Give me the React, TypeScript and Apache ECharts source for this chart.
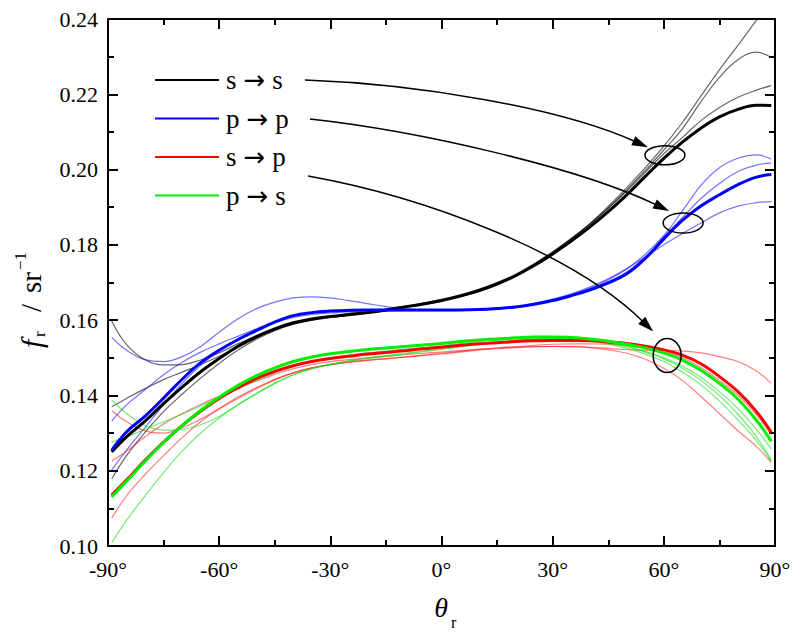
import React, { useEffect, useRef } from 'react';
import * as echarts from 'echarts';

// Reflection angle θr (degrees)
const angles = [-89, -85, -80, -75, -70, -65, -60, -55, -50, -45, -40, -35, -30, -25, -20, -15, -10, -5, 0, 5, 10, 15, 20, 25, 30, 35, 40, 45, 50, 55, 60, 65, 70, 75, 80, 85, 89];

// Thick (mean) curves
const ssThick = [0.1250, 0.1290, 0.1332, 0.1378, 0.1422, 0.1463, 0.1498, 0.1530, 0.1556, 0.1577, 0.1593, 0.1603, 0.1610, 0.1615, 0.1620, 0.1627, 0.1635, 0.1643, 0.1652, 0.1664, 0.1678, 0.1696, 0.1718, 0.1745, 0.1776, 0.1810, 0.1847, 0.1888, 0.1933, 0.1982, 0.2030, 0.2073, 0.2110, 0.2140, 0.2160, 0.2171, 0.2170];
const ppThick = [0.1255, 0.1303, 0.1345, 0.1393, 0.1443, 0.1487, 0.1520, 0.1548, 0.1572, 0.1595, 0.1612, 0.1620, 0.1624, 0.1626, 0.1627, 0.1627, 0.1627, 0.1627, 0.1627, 0.1627, 0.1628, 0.1631, 0.1635, 0.1642, 0.1652, 0.1665, 0.1680, 0.1699, 0.1723, 0.1764, 0.1816, 0.1865, 0.1903, 0.1933, 0.1960, 0.1980, 0.1987];
const spThick = [0.1135, 0.1175, 0.1228, 0.1276, 0.1320, 0.1358, 0.1392, 0.1420, 0.1445, 0.1464, 0.1479, 0.1490, 0.1498, 0.1504, 0.1510, 0.1514, 0.1519, 0.1524, 0.1528, 0.1533, 0.1537, 0.1540, 0.1543, 0.1545, 0.1546, 0.1546, 0.1545, 0.1542, 0.1538, 0.1531, 0.1521, 0.1507, 0.1484, 0.1450, 0.1410, 0.1357, 0.1302];
const psThick = [0.1130, 0.1172, 0.1225, 0.1275, 0.1320, 0.1360, 0.1395, 0.1426, 0.1452, 0.1473, 0.1490, 0.1502, 0.1511, 0.1517, 0.1522, 0.1526, 0.1530, 0.1534, 0.1538, 0.1543, 0.1547, 0.1550, 0.1553, 0.1555, 0.1555, 0.1554, 0.1550, 0.1544, 0.1536, 0.1526, 0.1513, 0.1494, 0.1467, 0.1432, 0.1390, 0.1334, 0.1278];

// Thin (individual) curves
const ssThinA = [0.1598, 0.1535, 0.1495, 0.1481, 0.1482, 0.1494, 0.1513, 0.1537, 0.1558, 0.1576, 0.1591, 0.1601, 0.1608, 0.1614, 0.1620, 0.1627, 0.1636, 0.1645, 0.1655, 0.1667, 0.1682, 0.1700, 0.1722, 0.1750, 0.1782, 0.1817, 0.1855, 0.1897, 0.1943, 0.1993, 0.2042, 0.2085, 0.2130, 0.2165, 0.2192, 0.2211, 0.2223];
const ssThinB = [0.1370, 0.1392, 0.1418, 0.1442, 0.1462, 0.1482, 0.1504, 0.1528, 0.1552, 0.1573, 0.1589, 0.1600, 0.1607, 0.1613, 0.1619, 0.1626, 0.1634, 0.1643, 0.1653, 0.1665, 0.1680, 0.1698, 0.1720, 0.1748, 0.1780, 0.1815, 0.1854, 0.1898, 0.1946, 0.1998, 0.2052, 0.2108, 0.2180, 0.2245, 0.2292, 0.2312, 0.2298];
const ssThinC = [0.1178, 0.1240, 0.1302, 0.1357, 0.1403, 0.1446, 0.1485, 0.1520, 0.1549, 0.1572, 0.1589, 0.1600, 0.1607, 0.1612, 0.1618, 0.1625, 0.1633, 0.1641, 0.1650, 0.1662, 0.1677, 0.1696, 0.1719, 0.1747, 0.1780, 0.1816, 0.1856, 0.1902, 0.1952, 0.2005, 0.2062, 0.2125, 0.2195, 0.2265, 0.2330, 0.2397, 0.2450];
const ppThinA = [0.1555, 0.1520, 0.1495, 0.1490, 0.1503, 0.1530, 0.1568, 0.1603, 0.1630, 0.1648, 0.1659, 0.1662, 0.1659, 0.1652, 0.1644, 0.1636, 0.1630, 0.1627, 0.1626, 0.1626, 0.1627, 0.1630, 0.1635, 0.1643, 0.1653, 0.1667, 0.1685, 0.1707, 0.1736, 0.1775, 0.1825, 0.1890, 0.1958, 0.2005, 0.2030, 0.2039, 0.2028];
const ppThinB = [0.1332, 0.1375, 0.1415, 0.1455, 0.1488, 0.1515, 0.1537, 0.1557, 0.1577, 0.1597, 0.1612, 0.1619, 0.1623, 0.1625, 0.1626, 0.1626, 0.1626, 0.1626, 0.1626, 0.1626, 0.1627, 0.1630, 0.1634, 0.1642, 0.1652, 0.1665, 0.1681, 0.1702, 0.1728, 0.1768, 0.1822, 0.1872, 0.1923, 0.1963, 0.1995, 0.2012, 0.2017];
const ppThinC = [0.1202, 0.1255, 0.1315, 0.1375, 0.1432, 0.1480, 0.1518, 0.1549, 0.1573, 0.1593, 0.1607, 0.1615, 0.1619, 0.1622, 0.1623, 0.1624, 0.1625, 0.1625, 0.1625, 0.1626, 0.1627, 0.1631, 0.1636, 0.1645, 0.1656, 0.1670, 0.1688, 0.1710, 0.1737, 0.1768, 0.1800, 0.1830, 0.1858, 0.1885, 0.1903, 0.1912, 0.1915];
const spThinA = [0.1360, 0.1330, 0.1306, 0.1300, 0.1314, 0.1337, 0.1364, 0.1392, 0.1418, 0.1442, 0.1460, 0.1473, 0.1482, 0.1489, 0.1494, 0.1498, 0.1502, 0.1506, 0.1510, 0.1515, 0.1520, 0.1524, 0.1527, 0.1529, 0.1530, 0.1530, 0.1528, 0.1525, 0.1522, 0.1520, 0.1520, 0.1518, 0.1513, 0.1503, 0.1490, 0.1465, 0.1432];
const spThinB = [0.1226, 0.1252, 0.1290, 0.1324, 0.1352, 0.1376, 0.1398, 0.1419, 0.1438, 0.1456, 0.1471, 0.1482, 0.1490, 0.1495, 0.1500, 0.1504, 0.1508, 0.1512, 0.1515, 0.1519, 0.1523, 0.1526, 0.1528, 0.1530, 0.1530, 0.1529, 0.1527, 0.1521, 0.1512, 0.1496, 0.1472, 0.1440, 0.1397, 0.1352, 0.1306, 0.1264, 0.1222];
const spThinC = [0.1074, 0.1133, 0.1190, 0.1240, 0.1288, 0.1330, 0.1365, 0.1395, 0.1420, 0.1442, 0.1460, 0.1473, 0.1482, 0.1488, 0.1493, 0.1497, 0.1502, 0.1507, 0.1512, 0.1517, 0.1522, 0.1526, 0.1530, 0.1533, 0.1536, 0.1537, 0.1537, 0.1536, 0.1533, 0.1526, 0.1516, 0.1500, 0.1474, 0.1440, 0.1400, 0.1348, 0.1295];
const psThinA = [0.1388, 0.1352, 0.1320, 0.1308, 0.1310, 0.1322, 0.1344, 0.1374, 0.1404, 0.1432, 0.1455, 0.1471, 0.1482, 0.1491, 0.1498, 0.1504, 0.1510, 0.1516, 0.1522, 0.1529, 0.1535, 0.1541, 0.1545, 0.1548, 0.1550, 0.1549, 0.1545, 0.1539, 0.1530, 0.1517, 0.1500, 0.1478, 0.1448, 0.1410, 0.1365, 0.1310, 0.1258];
const psThinB = [0.1276, 0.1290, 0.1310, 0.1330, 0.1350, 0.1372, 0.1395, 0.1418, 0.1440, 0.1460, 0.1478, 0.1491, 0.1500, 0.1507, 0.1513, 0.1518, 0.1523, 0.1527, 0.1532, 0.1538, 0.1543, 0.1547, 0.1550, 0.1552, 0.1553, 0.1551, 0.1548, 0.1540, 0.1530, 0.1515, 0.1497, 0.1472, 0.1440, 0.1400, 0.1350, 0.1290, 0.1228];
const psThinC = [0.1008, 0.1068, 0.1133, 0.1195, 0.1252, 0.1300, 0.1340, 0.1375, 0.1405, 0.1432, 0.1455, 0.1471, 0.1483, 0.1492, 0.1500, 0.1506, 0.1512, 0.1518, 0.1525, 0.1532, 0.1538, 0.1543, 0.1547, 0.1550, 0.1552, 0.1550, 0.1545, 0.1536, 0.1525, 0.1510, 0.1490, 0.1462, 0.1428, 0.1385, 0.1335, 0.1280, 0.1225];

const legendNames = ['s → s', 'p → p', 's → p', 'p → s'];
const xTicks = { min: -90, max: 90, interval: 30 };
const yTicks = { min: 0.1, max: 0.24, interval: 0.02 };

// Ellipse marks (data coords: centre angle, centre value)
const ellipses = [
  { at: [60.3, 0.2038], rx: 20, ry: 9.5 },
  { at: [65.2, 0.1858], rx: 20, ry: 10 },
  { at: [60.9, 0.1506], rx: 14, ry: 17 },
];

const FONT = 'Liberation Serif';
const colors = { ss: '#000000', pp: '#0000ff', sp: '#ff0000', ps: '#00ee00' };
const thinColors = { ss: 'rgba(0,0,0,0.6)', pp: 'rgba(0,0,255,0.55)', sp: 'rgba(255,0,0,0.5)', ps: 'rgba(0,220,0,0.55)' };

function zip(ys: number[]) {
  return angles.map((a, i) => [a, ys[i]]);
}

function line(name: string, ys: number[], color: string, width: number, z: number) {
  return {
    type: 'line',
    name,
    data: zip(ys),
    smooth: 0.4,
    symbol: 'none',
    showSymbol: false,
    clip: true,
    z,
    lineStyle: { color, width },
    itemStyle: { color },
    emphasis: { disabled: true },
  };
}

function axisCommon(showLabel: boolean, isX: boolean) {
  return {
    axisLine: { onZero: false, lineStyle: { color: '#000', width: 2 } },
    axisTick: { inside: true, length: 10, lineStyle: { color: '#000', width: 2 } },
    minorTick: { show: true, splitNumber: 2, length: 6, lineStyle: { color: '#000', width: 2 } },
    splitLine: { show: false },
    axisLabel: {
      show: showLabel,
      color: '#000',
      fontSize: 22,
      fontFamily: FONT,
      margin: isX ? 12 : 10,
      formatter: isX ? (v: number) => `${v}°` : (v: number) => v.toFixed(2),
    },
  };
}

export default function App() {
  const ref = useRef<HTMLDivElement>(null);
  useEffect(() => {
    const chart = echarts.init(ref.current!, null, { renderer: 'svg', width: 800, height: 636 });
    const series = [
      line('ss-1', ssThinA, thinColors.ss, 1.2, 2),
      line('ss-2', ssThinB, thinColors.ss, 1.2, 2),
      line('ss-3', ssThinC, thinColors.ss, 1.2, 2),
      line('pp-1', ppThinA, thinColors.pp, 1.2, 2),
      line('pp-2', ppThinB, thinColors.pp, 1.2, 2),
      line('pp-3', ppThinC, thinColors.pp, 1.2, 2),
      line('sp-1', spThinA, thinColors.sp, 1.2, 2),
      line('sp-2', spThinB, thinColors.sp, 1.2, 2),
      line('sp-3', spThinC, thinColors.sp, 1.2, 2),
      line('ps-1', psThinA, thinColors.ps, 1.2, 2),
      line('ps-2', psThinB, thinColors.ps, 1.2, 2),
      line('ps-3', psThinC, thinColors.ps, 1.2, 2),
      line(legendNames[0], ssThick, colors.ss, 3, 3),
      line(legendNames[1], ppThick, colors.pp, 3, 3),
      line(legendNames[2], spThick, colors.sp, 3, 3),
      line(legendNames[3], psThick, colors.ps, 3, 3),
    ];

    chart.setOption({
      animation: false,
      backgroundColor: '#ffffff',
      textStyle: { fontFamily: FONT },
      grid: { left: 108, right: 25, top: 19, bottom: 90, containLabel: false },
      xAxis: [
        { type: 'value', position: 'bottom', ...xTicks, ...axisCommon(true, true) },
        { type: 'value', position: 'top', ...xTicks, ...axisCommon(false, true) },
      ],
      yAxis: [
        { type: 'value', position: 'left', ...yTicks, ...axisCommon(true, false) },
        { type: 'value', position: 'right', ...yTicks, ...axisCommon(false, false) },
      ],
      legend: {
        data: legendNames,
        orient: 'vertical',
        left: 155,
        top: 66,
        padding: 0,
        itemWidth: 64,
        itemHeight: 28,
        itemGap: 10.5,
        selectedMode: false,
        icon: 'path://M0,13 L64,13 L64,15 L0,15 Z',
        formatter: (name: string) => {
          const [a, , b] = name.split(' ');
          return `{t|${a}}{ar|→}{t|${b}}`;
        },
        textStyle: {
          fontSize: 27,
          fontFamily: FONT,
          color: '#000',
          padding: [0, 0, 0, 2],
          lineHeight: 28,
          rich: {
            t: { fontSize: 27, fontFamily: FONT, color: '#000', lineHeight: 28 },
            ar: { fontSize: 26, fontFamily: 'DejaVu Sans', color: '#000', lineHeight: 28, padding: [0, 7, 0, 7] },
          },
        },
      },
      series,
    });

    // annotations: ellipses located from data coordinates, arrows from legend to ellipses
    const centres = ellipses.map((e) => chart.convertToPixel({ xAxisIndex: 0, yAxisIndex: 0 }, e.at) as number[]);
    const starts = [[305, 80], [310, 119], [308, 176]];
    const tipOffsets = [[-17, -8], [-14, -12], [-14, -24]];
    const ctrl = [
      [[420, 84], [560, 108]],
      [[420, 131], [580, 168]],
      [[420, 196], [570, 250]],
    ];
    const graphics: any[] = [];
    centres.forEach((c, i) => {
      const e = ellipses[i];
      graphics.push({
        type: 'ellipse',
        shape: { cx: c[0], cy: c[1], rx: e.rx, ry: e.ry },
        style: { fill: 'none', stroke: '#000', lineWidth: 1.5 },
        z: 10,
      });
      const tip = [c[0] + tipOffsets[i][0], c[1] + tipOffsets[i][1]];
      const [c1, c2] = ctrl[i];
      let dx = tip[0] - c2[0];
      let dy = tip[1] - c2[1];
      const len = Math.hypot(dx, dy);
      dx /= len; dy /= len;
      const L = 16, W = 5;
      const base = [tip[0] - dx * L, tip[1] - dy * L];
      graphics.push({
        type: 'bezierCurve',
        shape: { x1: starts[i][0], y1: starts[i][1], cpx1: c1[0], cpy1: c1[1], cpx2: c2[0], cpy2: c2[1], x2: base[0] + dx * 2, y2: base[1] + dy * 2 },
        style: { fill: 'none', stroke: '#000', lineWidth: 1.5 },
        z: 10,
      });
      graphics.push({
        type: 'polygon',
        shape: { points: [tip, [base[0] - dy * W, base[1] + dx * W], [base[0] + dy * W, base[1] - dx * W]] },
        style: { fill: '#000' },
        z: 10,
      });
    });

    // axis titles
    graphics.push(
      { type: 'text', x: 441, y: 607, style: { text: 'θ', font: `italic 28px ${FONT}`, fill: '#000', align: 'center', verticalAlign: 'middle' } },
      { type: 'text', x: 451, y: 622, style: { text: 'r', font: `16px ${FONT}`, fill: '#000', align: 'left', verticalAlign: 'middle' } },
      {
        type: 'group',
        x: 31,
        y: 348,
        rotation: Math.PI / 2,
        children: [
          { type: 'text', x: 0, y: 0, style: { text: 'f', font: `italic 30px ${FONT}`, fill: '#000', align: 'left', verticalAlign: 'middle' } },
          { type: 'text', x: 11, y: 8, style: { text: 'r', font: `17px ${FONT}`, fill: '#000', align: 'left', verticalAlign: 'middle' } },
          { type: 'text', x: 36, y: 0, style: { text: '/', font: `29px ${FONT}`, fill: '#000', align: 'left', verticalAlign: 'middle' } },
          { type: 'text', x: 55, y: 0, style: { text: 'sr', font: `29px ${FONT}`, fill: '#000', align: 'left', verticalAlign: 'middle' } },
          { type: 'text', x: 78, y: -11, style: { text: '−1', font: `17px ${FONT}`, fill: '#000', align: 'left', verticalAlign: 'middle' } },
        ],
      },
    );

    chart.setOption({ graphic: graphics });
    return () => chart.dispose();
  }, []);
  return <div ref={ref} style={{ position: 'fixed', left: 0, top: 0, width: 800, height: 636 }} />;
}
